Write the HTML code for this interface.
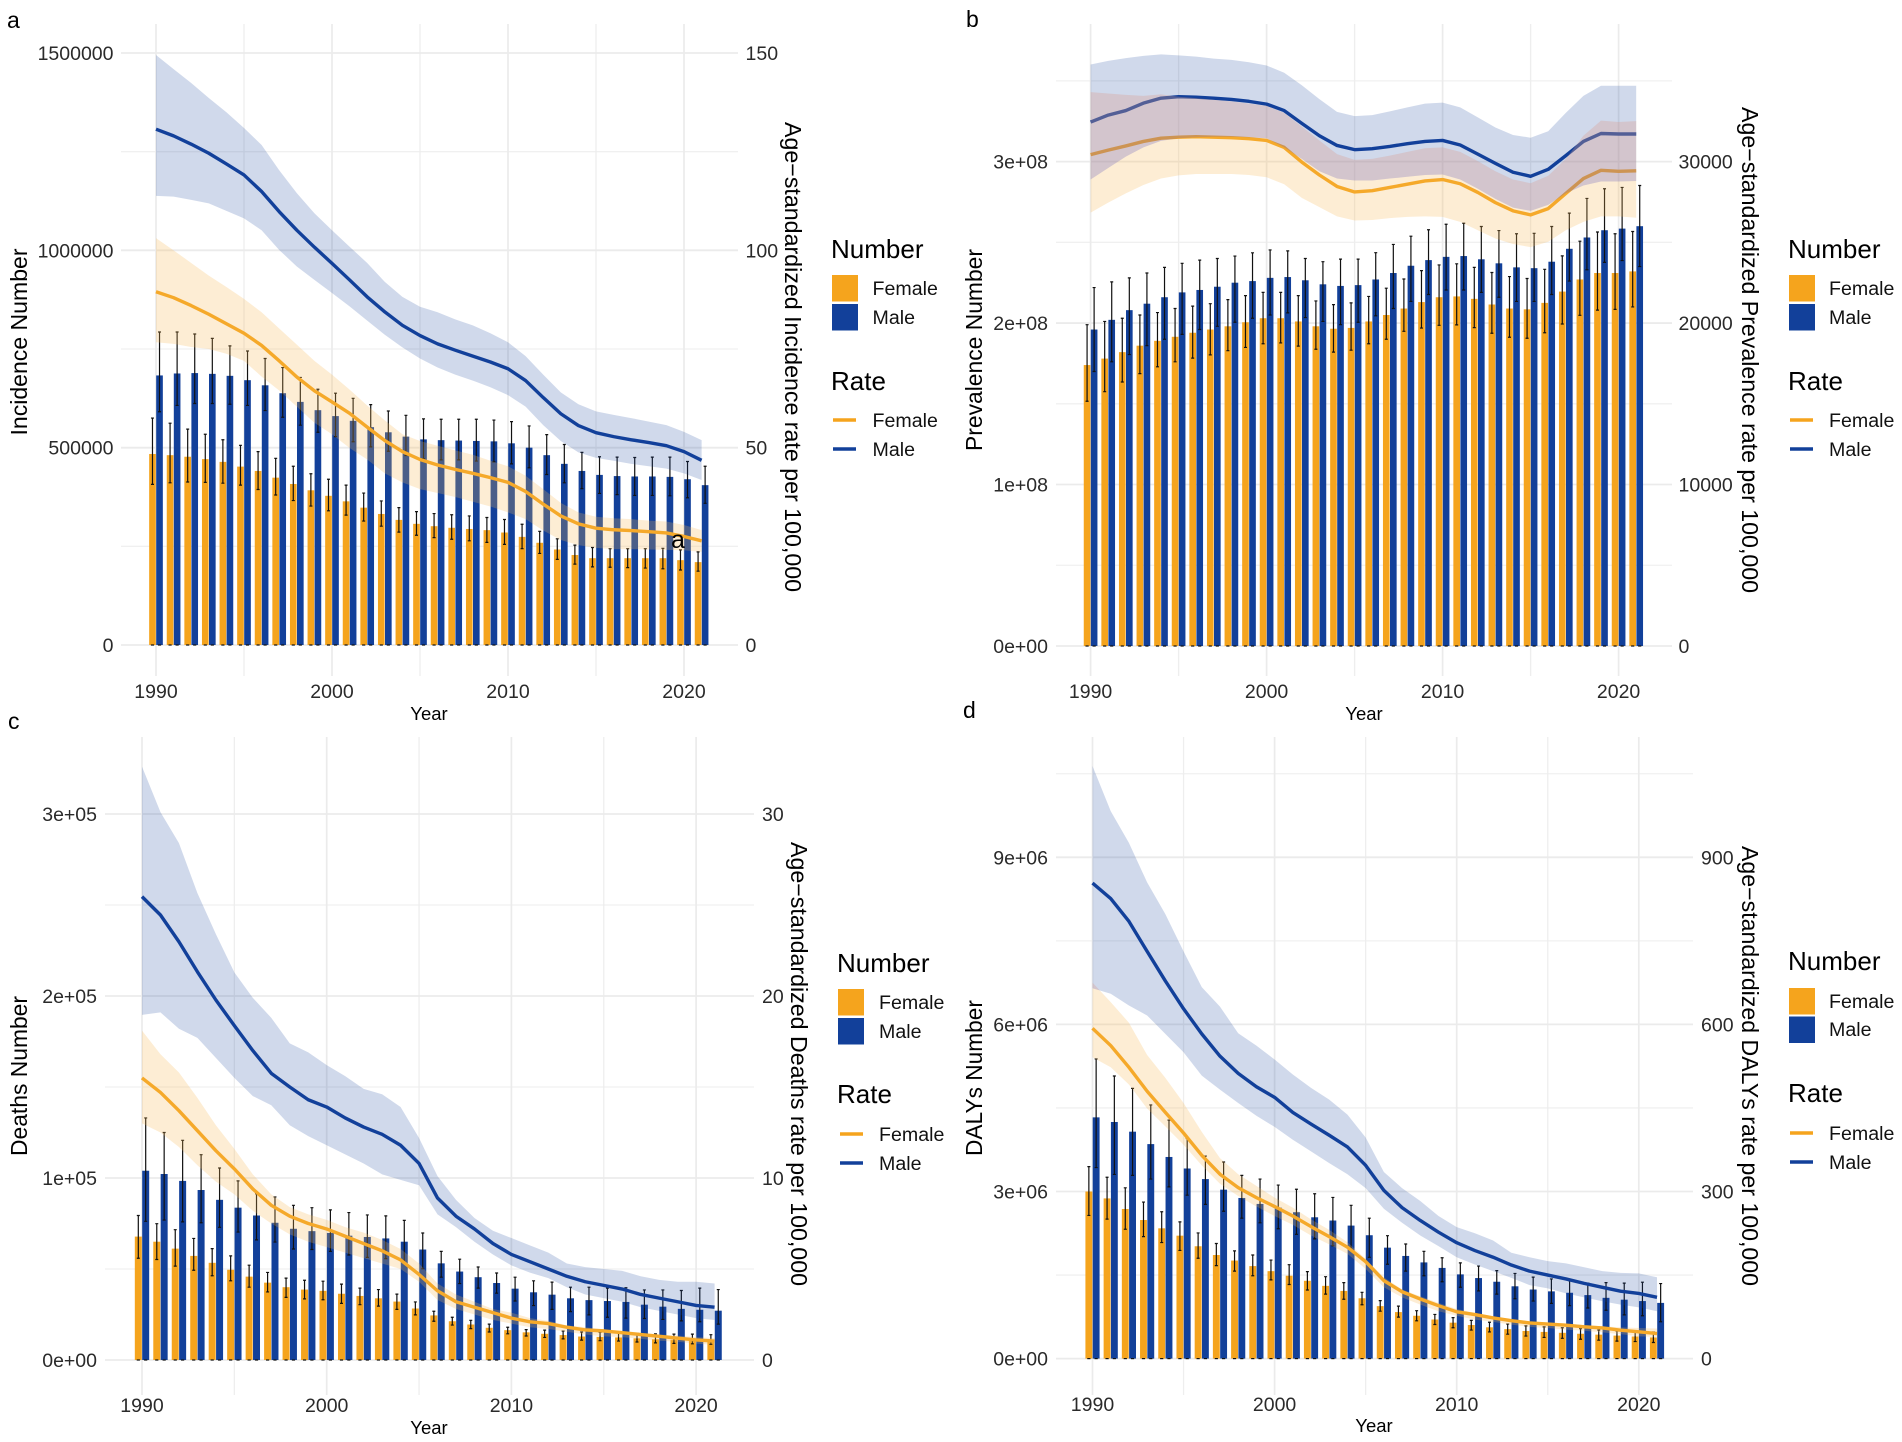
<!DOCTYPE html>
<html lang="en">
<head>
<meta charset="utf-8">
<title>Incidence, prevalence, deaths and DALYs by sex, 1990–2021</title>
<style>
html,body{margin:0;padding:0;background:#fff;width:1902px;height:1442px;overflow:hidden}
svg{display:block}
text{font-family:"Liberation Sans",sans-serif}
.tl{font-size:23px;fill:#000}
.ty{font-size:18.5px;fill:#000;text-anchor:middle}
.lt{font-size:26px;fill:#000}
.ll{font-size:19.6px;fill:#111}
.tag{font-size:23px;fill:#000}
</style>
</head>
<body>
<svg id="chart" xmlns="http://www.w3.org/2000/svg" width="1902" height="1442" viewBox="0 0 1902 1442">
<rect width="1902" height="1442" fill="#fff"/>

<g id="panel-a"></g>
<g id="panel-b"></g>
<g id="panel-c"></g>
<g id="panel-d"></g>

<!-- panel tags -->
<text class="tag" x="7" y="28">a</text>
<text class="tag" x="966" y="27">b</text>
<text class="tag" x="8" y="729">c</text>
<text class="tag" x="963" y="718">d</text>

<!-- axis titles -->
<text class="tl" text-anchor="middle" transform="translate(27,342) rotate(-90)" textLength="187" lengthAdjust="spacingAndGlyphs">Incidence Number</text>
<text class="tl" text-anchor="middle" transform="translate(785,357) rotate(90)" textLength="470" lengthAdjust="spacingAndGlyphs">Age−standardized Incidence rate per 100,000</text>
<text class="ty" x="429" y="720">Year</text>

<text class="tl" text-anchor="middle" transform="translate(982,350) rotate(-90)" textLength="202" lengthAdjust="spacingAndGlyphs">Prevalence Number</text>
<text class="tl" text-anchor="middle" transform="translate(1742,350) rotate(90)" textLength="486" lengthAdjust="spacingAndGlyphs">Age−standardized Prevalence rate per 100,000</text>
<text class="ty" x="1364" y="720">Year</text>

<text class="tl" text-anchor="middle" transform="translate(27,1076) rotate(-90)" textLength="160" lengthAdjust="spacingAndGlyphs">Deaths Number</text>
<text class="tl" text-anchor="middle" transform="translate(791,1064) rotate(90)" textLength="444" lengthAdjust="spacingAndGlyphs">Age−standardized Deaths rate per 100,000</text>
<text class="ty" x="429" y="1434">Year</text>

<text class="tl" text-anchor="middle" transform="translate(982,1078) rotate(-90)" textLength="156" lengthAdjust="spacingAndGlyphs">DALYs Number</text>
<text class="tl" text-anchor="middle" transform="translate(1742,1066) rotate(90)" textLength="440" lengthAdjust="spacingAndGlyphs">Age−standardized DALYs rate per 100,000</text>
<text class="ty" x="1374" y="1432">Year</text>

<!-- legends -->
<g>
  <text class="lt" x="831" y="258">Number</text>
  <rect x="832" y="275" width="26" height="26.5" fill="#F5A41D"/>
  <rect x="832" y="304" width="26" height="26.5" fill="#12409A"/>
  <text class="ll" x="872.5" y="295">Female</text>
  <text class="ll" x="872.5" y="324">Male</text>
  <text class="lt" x="831" y="390">Rate</text>
  <line x1="833" x2="856" y1="420" y2="420" stroke="#F5A41D" stroke-width="3.6"/>
  <line x1="833" x2="856" y1="449" y2="449" stroke="#12409A" stroke-width="3.6"/>
  <text class="ll" x="872.5" y="427">Female</text>
  <text class="ll" x="872.5" y="456">Male</text>
</g>
<g>
  <text class="lt" x="1788" y="258">Number</text>
  <rect x="1789" y="275" width="26" height="26.5" fill="#F5A41D"/>
  <rect x="1789" y="304" width="26" height="26.5" fill="#12409A"/>
  <text class="ll" x="1829" y="295">Female</text>
  <text class="ll" x="1829" y="324">Male</text>
  <text class="lt" x="1788" y="390">Rate</text>
  <line x1="1790" x2="1813" y1="420" y2="420" stroke="#F5A41D" stroke-width="3.6"/>
  <line x1="1790" x2="1813" y1="449" y2="449" stroke="#12409A" stroke-width="3.6"/>
  <text class="ll" x="1829" y="427">Female</text>
  <text class="ll" x="1829" y="456">Male</text>
</g>
<g>
  <text class="lt" x="837" y="972">Number</text>
  <rect x="838" y="989" width="26" height="26.5" fill="#F5A41D"/>
  <rect x="838" y="1018" width="26" height="26.5" fill="#12409A"/>
  <text class="ll" x="879" y="1009">Female</text>
  <text class="ll" x="879" y="1038">Male</text>
  <text class="lt" x="837" y="1103">Rate</text>
  <line x1="840" x2="863" y1="1134" y2="1134" stroke="#F5A41D" stroke-width="3.6"/>
  <line x1="840" x2="863" y1="1163" y2="1163" stroke="#12409A" stroke-width="3.6"/>
  <text class="ll" x="879" y="1141">Female</text>
  <text class="ll" x="879" y="1170">Male</text>
</g>
<g>
  <text class="lt" x="1788" y="970">Number</text>
  <rect x="1789" y="988" width="26" height="26.5" fill="#F5A41D"/>
  <rect x="1789" y="1016.5" width="26" height="26.5" fill="#12409A"/>
  <text class="ll" x="1829" y="1008">Female</text>
  <text class="ll" x="1829" y="1036">Male</text>
  <text class="lt" x="1788" y="1102">Rate</text>
  <line x1="1790" x2="1813" y1="1133" y2="1133" stroke="#F5A41D" stroke-width="3.6"/>
  <line x1="1790" x2="1813" y1="1162" y2="1162" stroke="#12409A" stroke-width="3.6"/>
  <text class="ll" x="1829" y="1140">Female</text>
  <text class="ll" x="1829" y="1169">Male</text>
</g>

<text x="671" y="548" font-size="25" fill="#000">a</text>
</svg>

<script>
// ---------- shared categories ----------
const years = [1990,1991,1992,1993,1994,1995,1996,1997,1998,1999,2000,2001,2002,2003,2004,2005,2006,2007,2008,2009,2010,2011,2012,2013,2014,2015,2016,2017,2018,2019,2020,2021];
const xTicks = [1990,2000,2010,2020];
const xMinorTicks = [1995,2005,2015];

// ---------- panel a: incidence (number in thousands) ----------
const aLeftTicks = [0,500,1000,1500];
const aLeftLabels = ["0","500000","1000000","1500000"];
const aMinorTicks = [250,750,1250];
const aRightLabels = ["0","50","100","150"];
const aFemaleNumber = [484,481,477,471,464,452,441,424,408,392,378,364,348,332,317,307,301,297,294,291,285,274,259,242,228,220,220,220,220,220,215,210];
const aFemaleNumberHigh = [575,562,547,534,520,506,490,473,453,434,420,405,385,365,348,338,333,330,327,323,318,306,288,269,253,247,244,244,244,245,241,236];
const aFemaleNumberLow = [407,411,413,412,410,405,394,380,366,352,340,329,314,301,286,278,272,268,264,260,255,244,232,217,205,198,197,196,195,193,190,187];
const aMaleNumber = [683,688,689,687,682,671,658,638,616,595,580,568,552,539,528,521,519,518,517,516,511,500,481,459,441,431,428,427,427,426,420,405];
const aMaleNumberHigh = [793,793,788,777,758,745,726,703,678,648,638,625,609,593,582,573,572,572,572,570,566,555,533,508,488,477,476,475,476,476,465,453];
const aMaleNumberLow = [591,607,612,612,610,607,594,577,557,539,528,515,502,491,480,472,469,469,466,464,459,449,432,411,396,384,381,379,379,378,373,359];
const aFemaleRate = [89.5,88,86,83.8,81.4,79,75.9,72,67.9,64.4,61.6,58.7,55.2,51.8,49,47,45.6,44.5,43.5,42.4,41.2,38.9,35.7,32.7,30.7,29.6,29.2,29,28.7,28.4,27.5,26.4];
const aFemaleRateHigh = [103.1,100,96.8,93.6,90.7,87.7,84.3,80.2,76.1,72,68.5,64.7,60.7,56.9,53.4,51.7,50.5,49.3,48.2,46.7,45.3,42.9,39.5,36,33.6,32.5,32.1,31.9,31.5,31.3,30.4,29.1];
const aFemaleRateLow = [76.7,76.3,75.5,75,73.8,72,68,64.5,60.4,56.3,53.4,49.9,47,43.5,41.2,39.5,38.5,37.5,36.3,35.1,33.6,31.9,29,26.6,25.3,24.6,24.3,24.3,24.2,24.1,24,23.6];
const aMaleRate = [130.7,129,126.9,124.6,121.9,119.1,114.9,109.8,105.1,100.8,96.7,92.5,88.2,84.4,81,78.4,76.3,74.7,73.2,71.7,70,67,62.7,58.6,55.6,53.8,52.8,52,51.3,50.5,49,46.8];
const aMaleRateHigh = [149.5,145.9,142.4,138.6,135,131,126.7,120.3,114.5,109.4,105.1,100.9,96.8,92,88.2,85.7,84.3,82.5,81,79,76.7,73.2,68.5,64,61,59.2,58.3,57.5,56.6,55.7,54,51.9];
const aMaleRateLow = [113.8,113.6,112.8,111.9,110,108.1,105.1,100.1,95.9,92.5,89.2,85.8,82.2,78.6,75.4,72.6,70.3,68.5,67,65.3,63.3,60.4,55.7,51.7,48.8,47.4,46.7,45.9,45.3,44.7,43.5,41.8];

// ---------- panel b: prevalence (number in 1e8) ----------
const bLeftTicks = [0,1,2,3];
const bLeftLabels = ["0e+00","1e+08","2e+08","3e+08"];
const bMinorTicks = [0.5,1.5,2.5,3.5];
const bRightLabels = ["0","10000","20000","30000"];
const bFemaleNumber = [1.74,1.78,1.82,1.86,1.89,1.915,1.94,1.96,1.98,2.005,2.03,2.03,2.01,1.98,1.965,1.97,2.01,2.05,2.09,2.13,2.16,2.165,2.15,2.115,2.09,2.085,2.125,2.195,2.27,2.31,2.31,2.32];
const bFemaleNumberHigh = [1.99,2.01,2.03,2.05,2.065,2.09,2.105,2.12,2.145,2.17,2.19,2.19,2.17,2.137,2.114,2.125,2.165,2.216,2.273,2.325,2.36,2.367,2.345,2.313,2.288,2.276,2.333,2.416,2.507,2.564,2.553,2.567];
const bFemaleNumberLow = [1.516,1.575,1.635,1.687,1.729,1.76,1.783,1.803,1.829,1.849,1.872,1.877,1.857,1.838,1.82,1.832,1.872,1.9,1.949,1.969,1.986,1.989,1.972,1.937,1.912,1.906,1.94,1.994,2.048,2.08,2.085,2.1];
const bMaleNumber = [1.96,2.02,2.08,2.12,2.16,2.19,2.205,2.225,2.25,2.26,2.28,2.285,2.265,2.24,2.23,2.235,2.27,2.31,2.355,2.39,2.41,2.415,2.395,2.37,2.345,2.34,2.38,2.46,2.53,2.575,2.585,2.6];
const bMaleNumberHigh = [2.22,2.255,2.28,2.31,2.345,2.37,2.39,2.4,2.415,2.435,2.453,2.447,2.4,2.38,2.396,2.396,2.436,2.487,2.538,2.578,2.612,2.618,2.598,2.573,2.553,2.556,2.598,2.681,2.772,2.832,2.84,2.852];
const bMaleNumberLow = [1.7,1.76,1.805,1.86,1.9,1.93,1.96,1.98,2.005,2.03,2.05,2.063,2.034,2.01,1.99,2.005,2.045,2.09,2.134,2.177,2.205,2.205,2.19,2.16,2.134,2.134,2.177,2.26,2.33,2.376,2.387,2.35];
const bFemaleRate = [30430,30710,30970,31250,31450,31510,31540,31510,31480,31420,31310,30880,29970,29170,28460,28120,28200,28400,28600,28800,28890,28630,28090,27460,26950,26700,27090,28030,28950,29460,29400,29430];
const bFemaleRateHigh = [34300,34220,34130,34070,34160,34020,33930,33820,33730,33590,33450,33020,32170,31310,30460,30110,30170,30370,30600,30830,30880,30600,30030,29400,28890,28660,29120,30170,31600,32540,32450,32510];
const bFemaleRateLow = [26840,27460,28030,28550,28950,29150,29230,29230,29230,29170,29030,28600,27750,27180,26610,26350,26380,26500,26580,26610,26580,26270,25750,25240,24900,24700,25040,25750,26270,26610,26610,26520];
const bMaleRate = [32450,32880,33160,33620,33930,34020,33990,33930,33850,33730,33560,33160,32370,31600,31000,30740,30800,30940,31110,31250,31310,31030,30460,29890,29340,29090,29520,30370,31250,31740,31710,31710];
const bMaleRateHigh = [36010,36240,36410,36550,36640,36580,36500,36380,36300,36150,35950,35500,34730,33870,33080,32820,32880,33110,33360,33590,33650,33360,32740,32110,31650,31480,31880,33020,34070,34700,34700,34700];
const bMaleRateLow = [28890,29600,30310,30880,31280,31450,31510,31540,31540,31510,31450,30880,30170,29400,28950,28830,28830,28950,29060,29170,29200,28890,28320,27690,27150,26950,27320,28030,28520,28770,28770,28800];

// ---------- panel c: deaths (number in thousands) ----------
const cLeftTicks = [0,100,200,300];
const cLeftLabels = ["0e+00","1e+05","2e+05","3e+05"];
const cMinorTicks = [50,150,250];
const cRightLabels = ["0","10","20","30"];
const cFemaleNumber = [67.8,65,61.2,57.2,53.4,49.6,45.8,42.5,40,38.7,38,36.4,35.2,33.9,32.1,28.3,24.5,21.3,19.5,17.7,16.4,15.2,14.4,13.7,12.9,12.7,12.4,11.9,11.4,11.1,11.1,10.9];
const cFemaleNumberHigh = [79.4,74.9,71.6,66.8,61.2,57.2,52.1,48.1,45,43.8,43.3,41.7,39.5,38.7,36.2,31.9,26.8,23.5,21.8,19.7,18,16.7,16.4,15.9,15.4,15.2,14.9,14.7,14.4,14.2,14.2,13.9];
const cFemaleNumberLow = [55.9,55.2,51.6,49.3,46.3,43.5,40,37.4,34.4,33.6,33.1,31.1,30.4,29.6,27.8,24.8,21.3,19.2,17.2,15.4,14.4,13.2,12.4,11.6,10.9,10.6,10.4,9.9,9.4,9.1,8.9,8.6];
const cMaleNumber = [104,102.2,98.4,93.4,88,83.7,79.4,75.4,72.1,70.8,69.8,68.3,67.6,66.8,65,60.7,53.1,48.6,45.5,42.3,39.2,37.2,35.9,33.9,32.9,32.4,31.9,30.4,29.3,28.1,27.6,27.1];
const cMaleNumberHigh = [133,125,120.7,112.8,105.5,98.4,91.3,89.6,85,83.7,82.5,81,79.7,79.2,76.7,69.8,59.7,55.4,51.1,47.8,45.5,43.5,42.8,40,40,39.5,39.7,38.5,38.5,38.2,39.5,38.7];
const cMaleNumberLow = [76.2,76.9,75.9,75.4,72.9,70.3,66,64.8,61,60.7,59.7,57.7,56.4,55.7,53.6,50.1,45.5,42,39.5,36.7,32.4,29.9,27.8,26.6,24.8,23.5,23,22.8,22.3,21.5,21,19.7];
const cFemaleRate = [15.5,14.7,13.7,12.6,11.5,10.5,9.4,8.5,7.9,7.5,7.2,6.8,6.4,6,5.5,4.7,3.8,3.2,2.9,2.6,2.3,2.1,2,1.8,1.65,1.6,1.5,1.4,1.3,1.2,1.1,1.04];
const cFemaleRateHigh = [18.1,16.8,15.8,14.4,12.9,11.6,10.2,9.1,8.4,8,7.7,7.3,7,6.6,6.1,5.3,4.2,3.6,3.2,2.8,2.6,2.3,2.15,1.9,1.8,1.67,1.6,1.5,1.4,1.34,1.26,1.2];
const cFemaleRateLow = [13,12.5,11.7,10.7,9.8,9.1,8.2,7.5,6.9,6.5,6.2,5.9,5.6,5.3,5,4.3,3.3,2.8,2.5,2.2,2,1.8,1.7,1.55,1.4,1.3,1.26,1.16,1.06,1,0.9,0.83];
const cMaleRate = [25.46,24.45,22.98,21.33,19.78,18.37,17,15.75,15,14.3,13.9,13.3,12.8,12.4,11.8,10.8,8.9,7.9,7.2,6.4,5.8,5.4,5,4.6,4.3,4.1,3.9,3.6,3.4,3.2,3,2.9];
const cMaleRateHigh = [32.6,30.1,28.4,25.65,23.4,21.3,19.9,18.8,17.4,16.9,16.2,15.6,14.9,14.6,13.9,12.2,10.1,8.8,7.8,7.1,6.7,6.3,5.9,5.3,5.1,5,4.9,4.6,4.4,4.3,4.3,4.2];
const cMaleRateLow = [18.96,19.1,18.2,17.7,16.6,15.5,14.5,14,12.9,12.3,11.8,11.3,10.8,10.2,9.9,9.6,8,7.3,6.5,5.8,5.2,4.8,4.5,4,3.6,3.4,3.2,2.9,2.7,2.5,2.3,2.2];

// ---------- panel d: DALYs (number in 1e6) ----------
const dLeftTicks = [0,3,6,9];
const dLeftLabels = ["0e+00","3e+06","6e+06","9e+06"];
const dMinorTicks = [1.5,4.5,7.5,10.5];
const dRightLabels = ["0","300","600","900"];
const dFemaleNumber = [3,2.876,2.686,2.488,2.339,2.207,2.017,1.86,1.76,1.661,1.57,1.488,1.397,1.306,1.215,1.083,0.942,0.835,0.769,0.702,0.645,0.603,0.562,0.529,0.496,0.479,0.463,0.446,0.43,0.413,0.397,0.38];
const dFemaleNumberHigh = [3.446,3.256,3.066,2.81,2.636,2.455,2.256,2.066,1.934,1.86,1.769,1.686,1.562,1.471,1.364,1.19,1.041,0.942,0.86,0.793,0.736,0.686,0.653,0.62,0.587,0.57,0.554,0.537,0.512,0.496,0.488,0.479];
const dFemaleNumberLow = [2.57,2.504,2.322,2.19,2.083,1.942,1.802,1.669,1.57,1.488,1.413,1.331,1.231,1.157,1.066,0.967,0.851,0.744,0.678,0.612,0.554,0.512,0.479,0.438,0.405,0.38,0.364,0.347,0.331,0.314,0.306,0.289];
const dMaleNumber = [4.331,4.248,4.074,3.851,3.62,3.413,3.223,3.033,2.884,2.777,2.711,2.628,2.537,2.479,2.388,2.215,1.992,1.843,1.727,1.628,1.512,1.446,1.38,1.298,1.24,1.207,1.182,1.14,1.091,1.058,1.033,1];
const dMaleNumberHigh = [5.38,5.074,4.851,4.554,4.281,3.95,3.636,3.529,3.289,3.223,3.116,3.041,2.959,2.893,2.752,2.521,2.207,2.058,1.926,1.81,1.719,1.661,1.579,1.529,1.463,1.43,1.397,1.355,1.364,1.355,1.372,1.347];
const dMaleNumberLow = [3.43,3.306,3.289,3.223,3.083,2.934,2.769,2.645,2.521,2.438,2.331,2.231,2.149,2.025,1.959,1.818,1.694,1.57,1.488,1.38,1.281,1.215,1.157,1.074,1.033,0.992,0.95,0.909,0.868,0.785,0.769,0.661];
const dFemaleRate = [593,562,523,480,442,405,365,331,307,289,273,256,237,219,200,174,140,120,107,95,84,79,73,68,64,62,60,57,55,51,48,45];
const dFemaleRateHigh = [675,640,603,545,504,459,407,360,331,310,289,271,250,231,209,179,146,124,112,100,89,82,76,70,67,65,63,60,58,56,55,54];
const dFemaleRateLow = [541,523,492,449,417,384,347,314,292,273,256,240,221,205,188,161,128,110,97,85,77,70,66,61,57,55,52,50,47,44,40,39];
const dMaleRate = [853.7,826,785,731,678,628,583,543,512,488,469,442,421,401,380,347,302,271,248,227,208,194,182,168,157,150,143,135,128,121,117,110];
const dMaleRateHigh = [1064,983,926,855,798,731,667,632,584,562,537,510,486,465,438,397,335,306,283,256,236,225,212,190,182,175,171,164,157,154,153,146];
const dMaleRateLow = [665,655,634,616,583,550,508,483,459,436,416,393,372,351,331,306,269,244,221,202,182,169,157,145,132,126,117,110,103,97,92,85];

// ---------- drawing ----------
const FEMALE = "#F5A41D";
const MALE = "#12409A";
const SVGNS = "http://www.w3.org/2000/svg";

function mk(parent, tag, attrs) {
  const el = document.createElementNS(SVGNS, tag);
  for (const k in attrs) el.setAttribute(k, attrs[k]);
  parent.appendChild(el);
  return el;
}

function drawPanel(p) {
  const root = document.getElementById(p.id);
  const x = function (year) { return p.x1990 + (year - 1990) * p.pxYear; };
  const yNum = function (v) { return p.yZero - (v / p.numTop) * (p.yZero - p.yTop); };
  const yRate = function (v) { return p.yZero - (v / p.rateTop) * (p.yZero - p.yTop); };
  const barW = 0.4 * p.pxYear;

  // grid
  p.minorTicks.forEach(function (t) {
    const yy = yNum(t);
    const l = mk(root, "line", {x1: p.left, x2: p.right, y1: yy, y2: yy, stroke: "#f0f0f0", "stroke-width": 1.3});
    
    
  });
  xMinorTicks.forEach(function (t) {
    const l = mk(root, "line", {x1: x(t), x2: x(t), y1: p.gridTop, y2: p.gridBottom, stroke: "#eeeeee", "stroke-width": 1.3});
    
    
  });
  p.leftTicks.forEach(function (t) {
    const yy = yNum(t);
    const l = mk(root, "line", {x1: p.left, x2: p.right, y1: yy, y2: yy, stroke: "#ebebeb", "stroke-width": 1.8});
    
    
  });
  xTicks.forEach(function (t) {
    const l = mk(root, "line", {x1: x(t), x2: x(t), y1: p.gridTop, y2: p.gridBottom, stroke: "#ebebeb", "stroke-width": 1.7});
    
    
  });

  // bars and error bars
  const groups = [
    {key: "female", fill: FEMALE, off: -barW, vals: p.femaleNumber, hi: p.femaleNumberHigh, lo: p.femaleNumberLow},
    {key: "male", fill: MALE, off: 0, vals: p.maleNumber, hi: p.maleNumberHigh, lo: p.maleNumberLow}
  ];
  groups.forEach(function (g) {
    years.forEach(function (yr, i) {
      const bx = x(yr) + g.off + 0.2;
      const b = mk(root, "rect", {x: bx, y: yNum(g.vals[i]), width: barW - 0.4, height: p.yZero - yNum(g.vals[i]), fill: g.fill});
      
      
    });
  });
  groups.forEach(function (g) {
    years.forEach(function (yr, i) {
      const cx = x(yr) + g.off + barW / 2;
      const yh = yNum(g.hi[i]), yl = yNum(g.lo[i]);
      const path = "M" + cx + " " + yh + "V" + yl + "M" + (cx - 1.5) + " " + yh + "H" + (cx + 1.5) + "M" + (cx - 1.5) + " " + yl + "H" + (cx + 1.5);
      const e = mk(root, "path", {d: path, stroke: "#111", "stroke-width": 1.2, fill: "none"});
      
      
      const z = mk(root, "line", {x1: cx - 1.6, x2: cx + 1.6, y1: p.yZero, y2: p.yZero, stroke: "#111", "stroke-width": 1.2});
      
      
    });
  });

  // rate lines sit beneath the ribbons
  const rates = [
    {key: "female", col: FEMALE, ribbon: "rgb(247,183,84)", alpha: 0.25, v: p.femaleRate, hi: p.femaleRateHigh, lo: p.femaleRateLow},
    {key: "male", col: MALE, ribbon: MALE, alpha: 0.2, v: p.maleRate, hi: p.maleRateHigh, lo: p.maleRateLow}
  ];
  rates.forEach(function (r) {
    const pts = years.map(function (yr, i) { return x(yr).toFixed(2) + "," + yRate(r.v[i]).toFixed(2); }).join(" ");
    const ln = mk(root, "polyline", {points: pts, fill: "none", stroke: r.col, "stroke-width": 3.4, "stroke-linejoin": "round"});
    
    
  });
  const ribbonPoints = function (r) {
    const upper = years.map(function (yr, i) { return x(yr).toFixed(2) + "," + yRate(r.hi[i]).toFixed(2); });
    const lower = years.map(function (yr, i) { return x(yr).toFixed(2) + "," + yRate(r.lo[i]).toFixed(2); }).reverse();
    return upper.concat(lower).join(" ");
  };
  rates.forEach(function (r) {
    const rb = mk(root, "polygon", {points: ribbonPoints(r), fill: r.ribbon, "fill-opacity": r.alpha});
    
    
  });

  // overlap tint where the two ribbons cross
  const clip = mk(root, "clipPath", {id: p.id + "-male-clip"});
  
  
  const clipShape = mk(clip, "polygon", {points: ribbonPoints(rates[1])});
  
  
  const tint = mk(root, "polygon", {points: ribbonPoints(rates[0]), fill: "rgb(255,160,255)", "fill-opacity": 0.1, "clip-path": "url(#" + p.id + "-male-clip)"});
  
  

  // tick labels
  p.leftTicks.forEach(function (t, i) {
    const tx = mk(root, "text", {x: p.leftLabelX, y: yNum(t) + 7, "text-anchor": "end", "font-size": 19.5, fill: "#2a2a2a"});
    tx.textContent = p.leftLabels[i];
    
    
    const ty = mk(root, "text", {x: p.rightLabelX, y: yNum(t) + 7, "text-anchor": "start", "font-size": 19.5, fill: "#2a2a2a"});
    ty.textContent = p.rightLabels[i];
    
    
  });
  xTicks.forEach(function (t) {
    const tx = mk(root, "text", {x: x(t), y: p.xLabelY, "text-anchor": "middle", "font-size": 19.5, fill: "#2a2a2a"});
    tx.textContent = String(t);
    
    
  });
}

drawPanel({
  id: "panel-a", x1990: 156, pxYear: 17.6, yZero: 645, yTop: 53, numTop: 1500, rateTop: 150,
  left: 121, right: 738, gridTop: 24, gridBottom: 676, leftLabelX: 113.5, rightLabelX: 745.5, xLabelY: 698,
  leftTicks: aLeftTicks, leftLabels: aLeftLabels, minorTicks: aMinorTicks, rightLabels: aRightLabels,
  femaleNumber: aFemaleNumber, femaleNumberHigh: aFemaleNumberHigh, femaleNumberLow: aFemaleNumberLow,
  maleNumber: aMaleNumber, maleNumberHigh: aMaleNumberHigh, maleNumberLow: aMaleNumberLow,
  femaleRate: aFemaleRate, femaleRateHigh: aFemaleRateHigh, femaleRateLow: aFemaleRateLow,
  maleRate: aMaleRate, maleRateHigh: aMaleRateHigh, maleRateLow: aMaleRateLow
});
drawPanel({
  id: "panel-b", x1990: 1090.6, pxYear: 17.6, yZero: 646, yTop: 161.6, numTop: 3, rateTop: 30000,
  left: 1056, right: 1672, gridTop: 24, gridBottom: 676, leftLabelX: 1048, rightLabelX: 1678.5, xLabelY: 698,
  leftTicks: bLeftTicks, leftLabels: bLeftLabels, minorTicks: bMinorTicks, rightLabels: bRightLabels,
  femaleNumber: bFemaleNumber, femaleNumberHigh: bFemaleNumberHigh, femaleNumberLow: bFemaleNumberLow,
  maleNumber: bMaleNumber, maleNumberHigh: bMaleNumberHigh, maleNumberLow: bMaleNumberLow,
  femaleRate: bFemaleRate, femaleRateHigh: bFemaleRateHigh, femaleRateLow: bFemaleRateLow,
  maleRate: bMaleRate, maleRateHigh: bMaleRateHigh, maleRateLow: bMaleRateLow
});
drawPanel({
  id: "panel-c", x1990: 142, pxYear: 18.47, yZero: 1360, yTop: 814, numTop: 300, rateTop: 30,
  left: 105, right: 754, gridTop: 737, gridBottom: 1395, leftLabelX: 97, rightLabelX: 762, xLabelY: 1412,
  leftTicks: cLeftTicks, leftLabels: cLeftLabels, minorTicks: cMinorTicks, rightLabels: cRightLabels,
  femaleNumber: cFemaleNumber, femaleNumberHigh: cFemaleNumberHigh, femaleNumberLow: cFemaleNumberLow,
  maleNumber: cMaleNumber, maleNumberHigh: cMaleNumberHigh, maleNumberLow: cMaleNumberLow,
  femaleRate: cFemaleRate, femaleRateHigh: cFemaleRateHigh, femaleRateLow: cFemaleRateLow,
  maleRate: cMaleRate, maleRateHigh: cMaleRateHigh, maleRateLow: cMaleRateLow
});
drawPanel({
  id: "panel-d", x1990: 1092.5, pxYear: 18.21, yZero: 1358.6, yTop: 857.3, numTop: 9, rateTop: 900,
  left: 1056, right: 1693, gridTop: 737, gridBottom: 1395, leftLabelX: 1048, rightLabelX: 1701, xLabelY: 1411,
  leftTicks: dLeftTicks, leftLabels: dLeftLabels, minorTicks: dMinorTicks, rightLabels: dRightLabels,
  femaleNumber: dFemaleNumber, femaleNumberHigh: dFemaleNumberHigh, femaleNumberLow: dFemaleNumberLow,
  maleNumber: dMaleNumber, maleNumberHigh: dMaleNumberHigh, maleNumberLow: dMaleNumberLow,
  femaleRate: dFemaleRate, femaleRateHigh: dFemaleRateHigh, femaleRateLow: dFemaleRateLow,
  maleRate: dMaleRate, maleRateHigh: dMaleRateHigh, maleRateLow: dMaleRateLow
});
</script>
</body>
</html>
